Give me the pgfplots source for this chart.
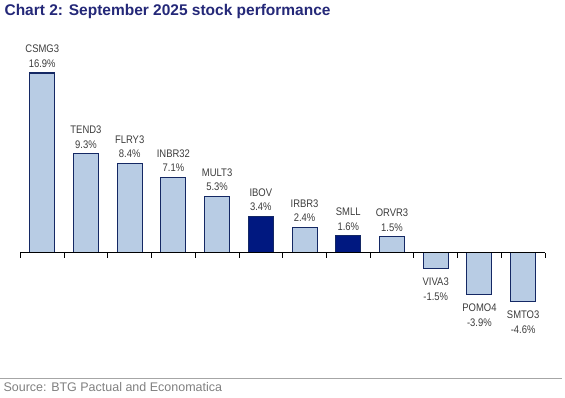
\documentclass[border=0pt]{standalone}
\usepackage{pgfplots}
\pgfplotsset{compat=1.18}
\usepackage{fontspec}
\setmainfont{Liberation Sans}
\newfontfamily\labelfont[FakeStretch=0.86]{Liberation Sans}
\definecolor{titleblue}{RGB}{36,40,120}
\definecolor{lightbar}{RGB}{184,204,228}
\definecolor{darkbar}{RGB}{0,24,128}
\definecolor{barline}{RGB}{20,40,100}
\definecolor{labelgray}{RGB}{60,60,60}
\definecolor{srcgray}{RGB}{128,128,128}
\begin{document}
\begin{tikzpicture}[x=1pt,y=1pt]
\path (0,0) rectangle (565,398);
\node[anchor=base west,text=titleblue,font=\bfseries\fontsize{15.5}{17}\selectfont,inner sep=0pt] at (4,382) {Chart 2: September 2025 stock performance};
\draw[color=srcgray!70,line width=0.8pt] (0,19) -- (562,19);
\node[anchor=base west,text=srcgray,font=\fontsize{12.5}{14}\selectfont,inner sep=0pt] at (3,6) {Source: BTG Pactual and Economatica};
\begin{axis}[
  anchor=south west, at={(20pt,70.45pt)},
  scale only axis, width=525pt, height=260.925pt,
  xmin=-0.5, xmax=11.5, ymin=-7, ymax=17.5,
  axis lines=none,
  ybar, bar width=25pt, bar shift=0pt,
  point meta=explicit symbolic,
  clip=false,
  every node near coord/.append style={font=\labelfont\fontsize{11}{14.5}\selectfont, text=labelgray, align=center, inner sep=0pt},
]
\addplot[fill=lightbar, draw=barline, line width=1.1pt,
  nodes near coords,
  every node near coord/.append style={anchor=south, yshift=5pt}]
  coordinates {
  (0,16.9) [CSMG3\\16.9\%]
  (1,9.3) [TEND3\\9.3\%]
  (2,8.4) [FLRY3\\8.4\%]
  (3,7.1) [INBR32\\7.1\%]
  (4,5.3) [MULT3\\5.3\%]
  (6,2.4) [IRBR3\\2.4\%]
  (8,1.5) [ORVR3\\1.5\%]
  };
\addplot[fill=darkbar, draw=barline, line width=1.1pt,
  nodes near coords,
  every node near coord/.append style={anchor=south, yshift=5pt}]
  coordinates {
  (5,3.4) [IBOV\\3.4\%]
  (7,1.6) [SMLL\\1.6\%]
  };
\addplot[fill=lightbar, draw=barline, line width=1.1pt,
  nodes near coords,
  every node near coord/.append style={anchor=north, yshift=-9pt}]
  coordinates {
  (9,-1.5) [VIVA3\\-1.5\%]
  (10,-3.9) [POMO4\\-3.9\%]
  (11,-4.6) [SMTO3\\-4.6\%]
  };
\draw[black, line width=0.8pt] (axis cs:-0.5,0) -- (axis cs:11.5,0);
\pgfplotsinvokeforeach{-0.5,0.5,1.5,2.5,3.5,4.5,5.5,6.5,7.5,8.5,9.5,10.5,11.5}{
  \draw[black, line width=0.8pt] (axis cs:#1,0) -- (axis cs:#1,-0.47);
}
\end{axis}
\end{tikzpicture}
\end{document}
